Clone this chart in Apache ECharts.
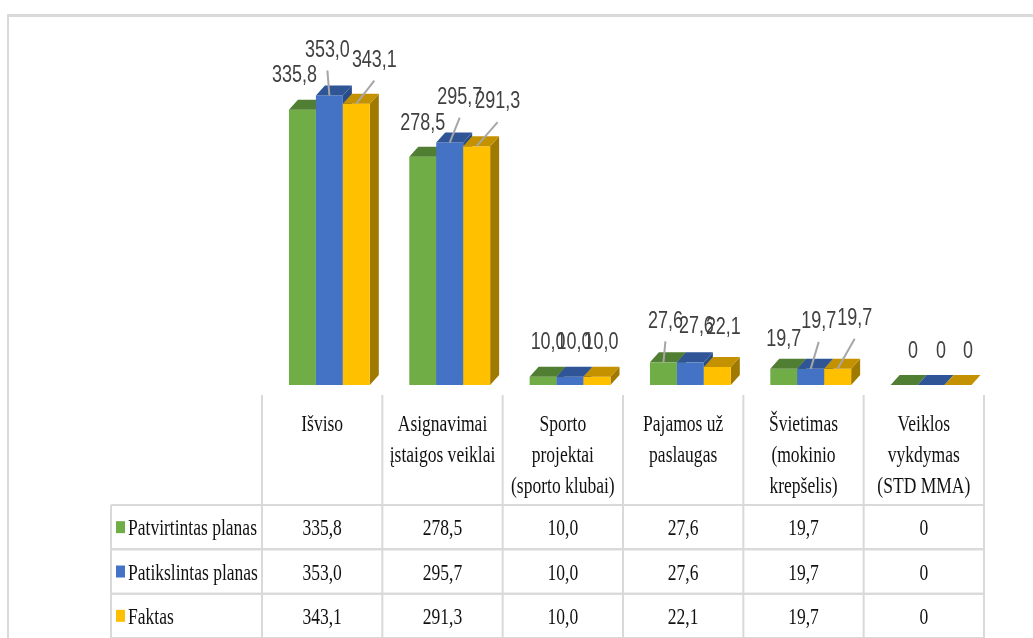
<!DOCTYPE html>
<html>
<head>
<meta charset="utf-8">
<script src="https://cdn.jsdelivr.net/npm/echarts@6/dist/echarts.min.js"></script>
<style>
  html, body { margin: 0; padding: 0; background: #fff; }
  #chart { width: 1033px; height: 638px; }
</style>
</head>
<body>
<div id="chart"></div>
<script>
const categories = [
  'Išviso',
  'Asignavimai\nįstaigos veiklai',
  'Sporto\nprojektai\n(sporto klubai)',
  'Pajamos už\npaslaugas',
  'Švietimas\n(mokinio\nkrepšelis)',
  'Veiklos\nvykdymas\n(STD MMA)'
];
const seriesNames = ['Patvirtintas planas', 'Patikslintas planas', 'Faktas'];
const patvirtintas = [335.8, 278.5, 10.0, 27.6, 19.7, 0];
const patikslintas = [353.0, 295.7, 10.0, 27.6, 19.7, 0];
const faktas = [343.1, 291.3, 10.0, 22.1, 19.7, 0];
const allValues = [patvirtintas, patikslintas, faktas];

// styling
const frontColors = ['#70AD47', '#4472C4', '#FFC000'];
const topColors = ['#507E32', '#2F5597', '#C49200'];
const sideColors = ['#4A7530', '#2A4D8A', '#A07A00'];
const gridLine = '#d9d9d9';
const labelFont = '23px "Liberation Sans", Arial, sans-serif';
const tableFont = '24px "Liberation Serif", "Times New Roman", serif';
// where each data label sits, relative to the front top of its bar
const labelShift = [
  [[-8, -34], [0, -33], [5, -34], [2, -41], [0, -29], [9, -33]],
  [[-2, -45], [10, -45], [4, -34], [6, -36], [8, -47], [10, -33]],
  [[18, -43], [21, -44], [4, -34], [6, -39], [17, -50], [10, -33]]
];

function fmt(v) {
  return v === 0 ? '0' : v.toFixed(1).replace('.', ',');
}

function barRenderer(k) {
  return function (params, api) {
    const c = api.value(0);
    const v = api.value(1);
    const base = api.coord([c, 0]);
    const top = api.coord([c, v]);
    const band = api.size([1, 0])[0];
    const w = band * 0.224;
    const x = base[0] - band / 2 + w + k * w;
    const dx = 9, dy = -10;
    const y0 = base[1], y1 = top[1];
    const children = [
      {
        type: 'polygon',
        shape: { points: [[x + w, y1], [x + w + dx, y1 + dy], [x + w + dx, y0 + dy], [x + w, y0]] },
        style: { fill: sideColors[k] }
      },
      {
        type: 'rect',
        shape: { x: x, y: y1, width: w, height: y0 - y1 },
        style: { fill: frontColors[k] }
      },
      {
        type: 'polygon',
        shape: { points: [[x, y1], [x + dx, y1 + dy], [x + w + dx, y1 + dy], [x + w, y1]] },
        style: { fill: topColors[k] }
      }
    ];
    const s = labelShift[k][c];
    const cx = x + w / 2;
    const lx = cx + s[0], ly = y1 + s[1];
    if (s[1] < -40) {
      children.push({
        type: 'line',
        shape: { x1: lx, y1: ly + 20, x2: cx, y2: y1 },
        style: { stroke: '#a6a6a6', lineWidth: 2 }
      });
    }
    children.push({
      type: 'text',
      x: lx, y: ly, scaleX: 0.78,
      style: { text: fmt(v), font: labelFont, fill: '#404040', align: 'center', verticalAlign: 'middle' }
    });
    return { type: 'group', children: children };
  };
}

// header cells under the bars, with the column rules of the data table
function headerRenderer(params, api) {
  const c = api.value(0);
  const p = api.coord([c, 0]);
  const band = api.size([1, 0])[0];
  const lineTop = p[1] + 10, lineBottom = p[1] + 270;
  const children = [
    { type: 'line', shape: { x1: p[0] - band / 2, y1: lineTop, x2: p[0] - band / 2, y2: lineBottom }, style: { stroke: gridLine, lineWidth: 2 } },
    {
      type: 'text',
      x: p[0], y: p[1] + 24, scaleX: 0.73,
      style: {
        text: categories[c], font: tableFont, lineHeight: 31,
        fill: '#111', align: 'center', verticalAlign: 'top'
      }
    }
  ];
  if (c === categories.length - 1) {
    children.push({ type: 'line', shape: { x1: p[0] + band / 2, y1: lineTop, x2: p[0] + band / 2, y2: lineBottom }, style: { stroke: gridLine, lineWidth: 2 } });
  }
  return { type: 'group', children: children };
}

function tableRenderer(params, api) {
  const c = api.value(0);
  const r = api.value(1);
  const v = api.value(2);
  const p = api.coord([c, r]);
  const h = api.size([1, 1])[1];
  const cs = params.coordSys;
  const rowTop = p[1] - h / 2, rowBottom = p[1] + h / 2;
  const children = [{
    type: 'text',
    x: p[0], y: p[1] + 2, scaleX: 0.73,
    style: { text: fmt(v), font: tableFont, fill: '#111', align: 'center', verticalAlign: 'middle' }
  }];
  if (c === 0) {
    const left = cs.x - 151;
    const right = cs.x + cs.width;
    children.push(
      { type: 'line', shape: { x1: left, y1: rowTop, x2: right, y2: rowTop }, style: { stroke: gridLine, lineWidth: 2 } },
      { type: 'line', shape: { x1: left, y1: rowBottom, x2: right, y2: rowBottom }, style: { stroke: gridLine, lineWidth: 2 } },
      { type: 'line', shape: { x1: left, y1: rowTop, x2: left, y2: rowBottom }, style: { stroke: gridLine, lineWidth: 2 } },
      { type: 'rect', shape: { x: left + 5, y: p[1] - 6, width: 9, height: 12 }, style: { fill: frontColors[r] } },
      {
        type: 'text', x: left + 17, y: p[1] + 2, scaleX: 0.73,
        style: { text: seriesNames[r], font: tableFont, fill: '#111', align: 'left', verticalAlign: 'middle' }
      }
    );
  }
  return { type: 'group', children: children };
}

const tableData = [];
allValues.forEach((row, r) => {
  row.forEach((v, c) => tableData.push([c, r, v]));
});

const chart = echarts.init(document.getElementById('chart'), null, { renderer: 'canvas' });

chart.setOption({
  backgroundColor: '#fff',
  animation: false,
  graphic: [
    { type: 'line', shape: { x1: 7, y1: 15.5, x2: 1040, y2: 15.5 }, style: { stroke: gridLine, lineWidth: 3 } },
    { type: 'line', shape: { x1: 8, y1: 14, x2: 8, y2: 650 }, style: { stroke: gridLine, lineWidth: 2 } }
  ],
  grid: [
    { left: 262, right: 49, top: 57, bottom: 253 },
    { left: 262, right: 49, top: 505, bottom: -3 }
  ],
  xAxis: [
    { type: 'category', gridIndex: 0, data: categories, show: false },
    { type: 'category', gridIndex: 1, data: categories, show: false }
  ],
  yAxis: [
    { type: 'value', gridIndex: 0, min: 0, max: 400, show: false },
    { type: 'category', gridIndex: 1, data: seriesNames, inverse: true, show: false }
  ],
  series: [
    {
      type: 'custom', name: 'header',
      xAxisIndex: 0, yAxisIndex: 0,
      renderItem: headerRenderer,
      data: categories.map((_, c) => [c, 0])
    },
    ...allValues.map((vals, k) => ({
      type: 'custom',
      name: seriesNames[k],
      xAxisIndex: 0, yAxisIndex: 0,
      renderItem: barRenderer(k),
      data: vals.map((v, c) => [c, v])
    })),
    {
      type: 'custom', name: 'table',
      xAxisIndex: 1, yAxisIndex: 1,
      renderItem: tableRenderer,
      data: tableData
    }
  ]
});
</script>
</body>
</html>
